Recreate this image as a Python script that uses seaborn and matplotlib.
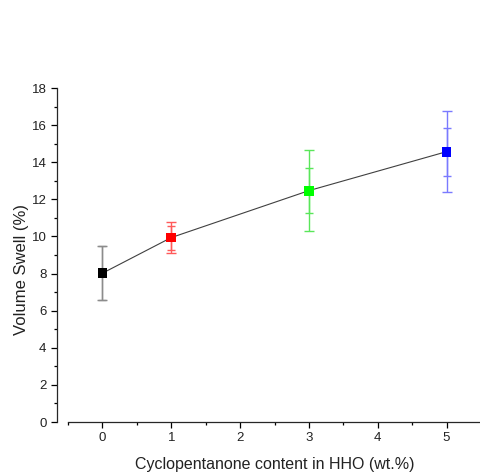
import numpy as np
import pandas as pd
import seaborn as sns
import matplotlib
matplotlib.use("Agg")
import matplotlib.pyplot as plt
from matplotlib.ticker import MultipleLocator

# data
content = [0, 1, 3, 5]
swell = [8.02, 9.94, 12.47, 14.57]
err_outer = [1.45, 0.83, 2.2, 2.2]
err_inner = [1.45, 0.65, 1.2, 1.3]
marker_colors = ["#000000", "#ff0000", "#00ff00", "#0000ff"]
bar_colors = ["#8c8c8c", "#ff5a5a", "#5ae65a", "#7a7aff"]

df = pd.DataFrame({"content": content, "swell": swell, "group": [str(c) for c in content]})

sns.set_style("ticks")
plt.rcParams["font.family"] = ["Liberation Sans", "DejaVu Sans"]

fig = plt.figure(figsize=(4.81, 4.76), dpi=100)
ax = fig.add_axes([0.1414, 0.1134, 0.8586, 0.7017])

# connecting line
sns.lineplot(data=df, x="content", y="swell", color="#404040", linewidth=0.8, ax=ax, zorder=2)

# error bars (outer and inner caps)
for i in range(len(content)):
    ax.errorbar(content[i], swell[i], yerr=err_outer[i], fmt="none", ecolor=bar_colors[i],
                elinewidth=1.0, capsize=3.5, capthick=1.0, zorder=1)
    ax.errorbar(content[i], swell[i], yerr=err_inner[i], fmt="none", ecolor=bar_colors[i],
                elinewidth=1.0, capsize=3.0, capthick=1.0, zorder=1)

# square markers
sns.scatterplot(data=df, x="content", y="swell", hue="group", palette=marker_colors,
                marker="s", s=50, linewidth=0, legend=False, ax=ax, zorder=3)

ax.set_xlim(-0.5, 5.5)
ax.set_ylim(0, 18)
ax.xaxis.set_major_locator(MultipleLocator(1))
ax.xaxis.set_minor_locator(MultipleLocator(0.5))
ax.yaxis.set_major_locator(MultipleLocator(2))
ax.yaxis.set_minor_locator(MultipleLocator(1))
ax.tick_params(which="major", length=4, width=0.9, labelsize=9.5, colors="black", labelcolor="#222222")
ax.tick_params(which="minor", length=2.2, width=0.9, colors="black")

for s in ["top", "right"]:
    ax.spines[s].set_visible(False)
ax.spines["left"].set_position(("outward", 8))
ax.spines["left"].set_linewidth(0.9)
ax.spines["bottom"].set_linewidth(0.9)

ax.set_xlabel("Cyclopentanone content in HHO (wt.%)", fontsize=11.5, color="#222222")
ax.set_ylabel("Volume Swell (%)", fontsize=12, color="#222222")
ax.xaxis.set_label_coords(0.5, -0.105)
ax.yaxis.set_label_coords(-0.094, 0.458)

fig.savefig("out.png", dpi=100)
